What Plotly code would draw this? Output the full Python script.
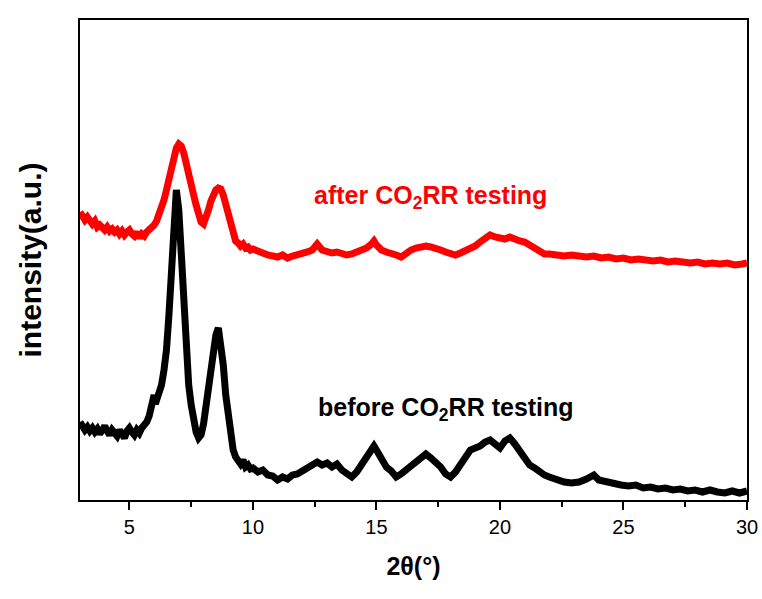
import plotly.graph_objects as go

# 2theta positions (degrees) and intensities (a.u.)
before_x = [3.0, 3.1, 3.2, 3.3, 3.4, 3.5, 3.6, 3.7, 3.8, 3.9, 4.0, 4.1, 4.2, 4.3, 4.4, 4.5, 4.6, 4.7, 4.8, 4.9,
            5.0, 5.1, 5.2, 5.3, 5.4, 5.5, 5.6, 5.7, 5.8, 5.9, 6.0, 6.05, 6.1, 6.2, 6.3, 6.4, 6.5, 6.6, 6.7, 6.8,
            6.9, 7.0, 7.1, 7.2, 7.3, 7.4, 7.5, 7.6, 7.7, 7.8, 7.9, 8.0, 8.1, 8.2, 8.3, 8.4, 8.5, 8.6, 8.65, 8.7,
            8.8, 8.9, 9.0, 9.1, 9.2, 9.3, 9.4, 9.5, 9.6, 9.7, 9.8, 9.9, 10.0, 10.2, 10.4, 10.6, 10.8, 11.0, 11.2,
            11.4, 11.6, 11.8, 12.0, 12.2, 12.4, 12.6, 12.8, 13.0, 13.2, 13.4, 13.6, 13.8, 14.0, 14.2, 14.4, 14.6,
            14.8, 14.9, 15.0, 15.2, 15.4, 15.6, 15.8, 16.0, 16.2, 16.4, 16.6, 16.8, 17.0, 17.2, 17.4, 17.6, 17.8,
            18.0, 18.2, 18.4, 18.6, 18.8, 19.0, 19.2, 19.4, 19.6, 19.8, 20.0, 20.2, 20.4, 20.6, 20.8, 21.0, 21.2,
            21.4, 21.6, 21.8, 22.0, 22.3, 22.6, 22.9, 23.2, 23.5, 23.8, 24.0, 24.3, 24.6, 24.9, 25.2, 25.5, 25.8,
            26.1, 26.4, 26.7, 27.0, 27.3, 27.6, 27.9, 28.2, 28.5, 28.8, 29.1, 29.4, 29.7, 30.0]
before_y = [780, 740, 700, 730, 690, 720, 680, 710, 660, 700, 740, 690, 650, 700, 680, 640, 700, 660, 620, 690,
            720, 680, 650, 700, 670, 720, 740, 780, 840, 950, 1050, 960, 1000, 1060, 1150, 1300, 1500, 1850, 2350,
            2850, 3100, 2900, 2450, 1950, 1500, 1150, 950, 780, 680, 620, 650, 760, 950, 1150, 1400, 1550, 1650,
            1720, 1640, 1600, 1350, 1050, 820, 650, 500, 430, 380, 360, 400, 330, 350, 310, 320, 280, 300, 250,
            240, 200, 230, 210, 250, 260, 290, 320, 340, 380, 350, 370, 330, 360, 300, 260, 230, 280, 350, 420,
            520, 540, 500, 400, 330, 290, 230, 260, 300, 360, 400, 440, 460, 420, 380, 330, 260, 230, 280, 350,
            440, 500, 520, 540, 580, 600, 560, 520, 590, 620, 560, 480, 400, 350, 320, 280, 250, 230, 200, 180,
            170, 180, 210, 250, 200, 180, 160, 150, 140, 150, 120, 130, 110, 120, 100, 110, 90, 100, 80, 100, 80,
            70, 90, 70, 90]

after_x = [3.0, 3.1, 3.2, 3.3, 3.4, 3.5, 3.6, 3.7, 3.8, 3.9, 4.0, 4.1, 4.2, 4.3, 4.4, 4.5, 4.6, 4.7, 4.8, 4.9,
           5.0, 5.1, 5.2, 5.3, 5.4, 5.5, 5.6, 5.7, 5.8, 5.9, 6.0, 6.1, 6.2, 6.3, 6.4, 6.5, 6.6, 6.7, 6.8, 6.9,
           7.0, 7.1, 7.2, 7.3, 7.4, 7.5, 7.6, 7.7, 7.8, 7.9, 8.0, 8.1, 8.2, 8.3, 8.4, 8.5, 8.6, 8.7, 8.8, 8.9,
           9.0, 9.1, 9.2, 9.3, 9.4, 9.5, 9.6, 9.7, 9.8, 9.9, 10.0, 10.2, 10.4, 10.6, 10.8, 11.0, 11.2, 11.4, 11.6,
           11.8, 12.0, 12.2, 12.4, 12.6, 12.8, 13.0, 13.2, 13.4, 13.6, 13.8, 14.0, 14.2, 14.4, 14.6, 14.8, 14.9,
           15.0, 15.2, 15.4, 15.6, 15.8, 16.0, 16.2, 16.4, 16.6, 16.8, 17.0, 17.2, 17.4, 17.6, 17.8, 18.0, 18.2,
           18.4, 18.6, 18.8, 19.0, 19.2, 19.4, 19.6, 19.8, 20.0, 20.2, 20.4, 20.6, 20.8, 21.0, 21.2, 21.4, 21.6,
           21.8, 22.0, 22.3, 22.6, 22.9, 23.2, 23.5, 23.8, 24.1, 24.4, 24.7, 25.0, 25.3, 25.6, 25.9, 26.2, 26.5,
           26.8, 27.1, 27.4, 27.7, 28.0, 28.3, 28.6, 28.9, 29.2, 29.5, 29.8, 30.0]
after_y = [2880, 2820, 2800, 2830, 2780, 2760, 2790, 2730, 2750, 2720, 2700, 2730, 2690, 2710, 2680, 2700, 2660,
           2690, 2650, 2680, 2700, 2660, 2640, 2680, 2620, 2660, 2640, 2680, 2700, 2720, 2750, 2790, 2850, 2920,
           3000, 3100, 3220, 3350, 3450, 3520, 3560, 3540, 3470, 3380, 3270, 3160, 3050, 2950, 2850, 2780, 2760,
           2820, 2900, 2990, 3060, 3100, 3120, 3110, 3050, 2950, 2830, 2720, 2640, 2590, 2570, 2540, 2560, 2520,
           2530, 2500, 2510, 2480, 2470, 2450, 2440, 2430, 2450, 2420, 2440, 2450, 2460, 2480, 2500, 2560, 2500,
           2490, 2470, 2480, 2460, 2450, 2460, 2480, 2500, 2520, 2560, 2590, 2550, 2500, 2480, 2470, 2450, 2430,
           2470, 2500, 2520, 2530, 2540, 2530, 2520, 2500, 2480, 2470, 2450, 2470, 2490, 2510, 2540, 2580, 2620,
           2650, 2630, 2620, 2610, 2630, 2600, 2590, 2580, 2550, 2520, 2480, 2460, 2460, 2450, 2440, 2450, 2440,
           2430, 2440, 2420, 2430, 2410, 2420, 2400, 2410, 2400, 2390, 2400, 2380, 2390, 2380, 2370, 2380, 2360,
           2370, 2360, 2370, 2350, 2360, 2370]

x_ticks = [5, 10, 15, 20, 25, 30]
x_minor = [7.5, 12.5, 17.5, 22.5, 27.5]

FONT = "Liberation Sans, Arial"

fig = go.Figure()
fig.add_trace(go.Scatter(x=before_x, y=before_y, mode="lines",
                         line=dict(color="black", width=7), showlegend=False))
fig.add_trace(go.Scatter(x=after_x, y=after_y, mode="lines",
                         line=dict(color="#ff0000", width=7), showlegend=False))

fig.add_annotation(x=17.2, y=3030, text="<b>after CO<sub>2</sub>RR testing</b>", showarrow=False,
                   font=dict(color="#ff0000", size=25, family=FONT))
fig.add_annotation(x=17.8, y=910, text="<b>before CO<sub>2</sub>RR testing</b>", showarrow=False,
                   font=dict(color="black", size=25, family=FONT))

fig.update_layout(
    width=762, height=599,
    margin=dict(l=80, r=15, t=20, b=99),
    paper_bgcolor="white", plot_bgcolor="white",
    font=dict(family=FONT, color="black"),
    xaxis=dict(range=[3, 30], tickvals=x_ticks, ticks="outside", ticklen=8, tickwidth=2, tickcolor="black",
               showline=True, linewidth=2, linecolor="black", mirror=True, showgrid=False, zeroline=False,
               automargin=False,
               tickfont=dict(size=20, family=FONT), tickprefix="<b>", ticksuffix="</b>",
               minor=dict(tickvals=x_minor, ticks="outside", ticklen=5, tickwidth=2, tickcolor="black"),
               title=dict(text="<b>2θ(°)</b>", font=dict(size=25), standoff=20)),
    yaxis=dict(range=[0, 4800], showticklabels=False, ticks="", showline=True, linewidth=2,
               linecolor="black", mirror=True, showgrid=False, zeroline=False, automargin=False,
               title=dict(text="<b>intensity(a.u.)</b>", font=dict(size=30), standoff=28)),
)

fig.write_html("out.html")
